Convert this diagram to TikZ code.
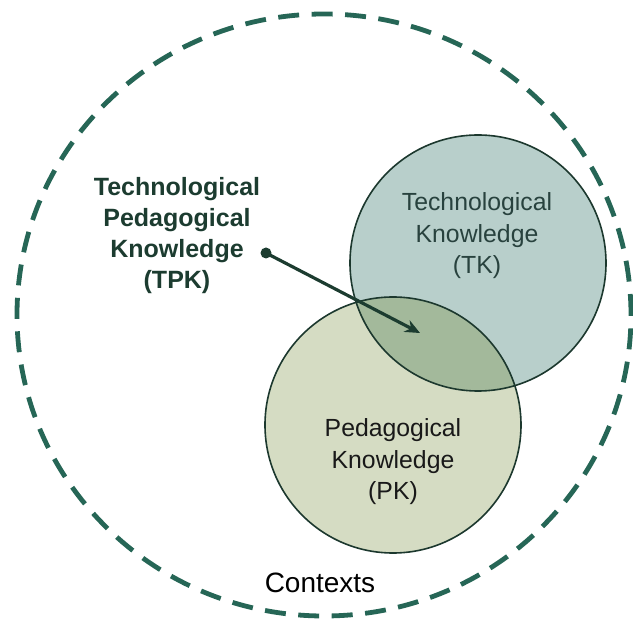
\documentclass[tikz,border=0pt]{standalone}
\usepackage{fontspec}
\setmainfont{Liberation Sans}
\usepackage{tikz}
\usetikzlibrary{arrows.meta}
\definecolor{ctxgreen}{RGB}{38,102,86}
\definecolor{tkfill}{RGB}{184,207,203}
\definecolor{pkfill}{RGB}{213,220,195}
\definecolor{tpkfill}{RGB}{163,185,155}
\definecolor{rim}{RGB}{28,56,46}
\definecolor{darkgreen}{RGB}{28,60,48}
\definecolor{tktext}{RGB}{40,66,62}
\tikzset{
  ctx/.style={draw=ctxgreen,line width=4.8pt,dash pattern=on 21pt off 12.5pt},
  rimline/.style={draw=rim,line width=1.6pt},
  lbl/.style={align=center,inner sep=0pt,font=\fontsize{24.8}{31.5}\selectfont},
  tpklbl/.style={lbl,font=\fontsize{25}{31}\selectfont\bfseries,text=darkgreen},
}

\begin{document}
\begin{tikzpicture}[x=1pt,y=-1pt,>=Stealth]
  \useasboundingbox (0,0) rectangle (633,620);
  % outer context ring
  \draw[ctx] (324,315) ellipse (307pt and 301pt);
  \coordinate (tkc) at (478,263);
  \coordinate (pkc) at (393,425);
  % the two knowledge areas and their overlap
  \fill[tkfill] (tkc) circle (128pt);
  \fill[pkfill] (pkc) circle (128pt);
  \begin{scope}
    \clip (tkc) circle (128pt);
    \fill[tpkfill] (pkc) circle (128pt);
  \end{scope}
  \draw[rimline] (tkc) circle (128pt);
  \draw[rimline] (pkc) circle (128pt);
  \node[lbl,text=tktext] (tk) at (477,236) {Technological\\Knowledge\\(TK)};
  \node[lbl,text=black!90] (pk) at (393,462) {Pedagogical\\Knowledge\\(PK)};
  \node[tpklbl] (tpk) at (177,236) {Technological\\Pedagogical\\Knowledge\\(TPK)};
  \node[font=\fontsize{28}{30}\selectfont,inner sep=0pt] (ctxt) at (320,583) {Contexts};
  % pointer into the overlap
  \coordinate (dot) at (266,253);
  \coordinate (tip) at (420,333);
  \fill[darkgreen] (dot) circle (5.5pt);
  \draw[darkgreen,line width=3.2pt,-{Stealth[length=15pt,width=13pt]}] (dot) -- (tip);
\end{tikzpicture}
\end{document}
